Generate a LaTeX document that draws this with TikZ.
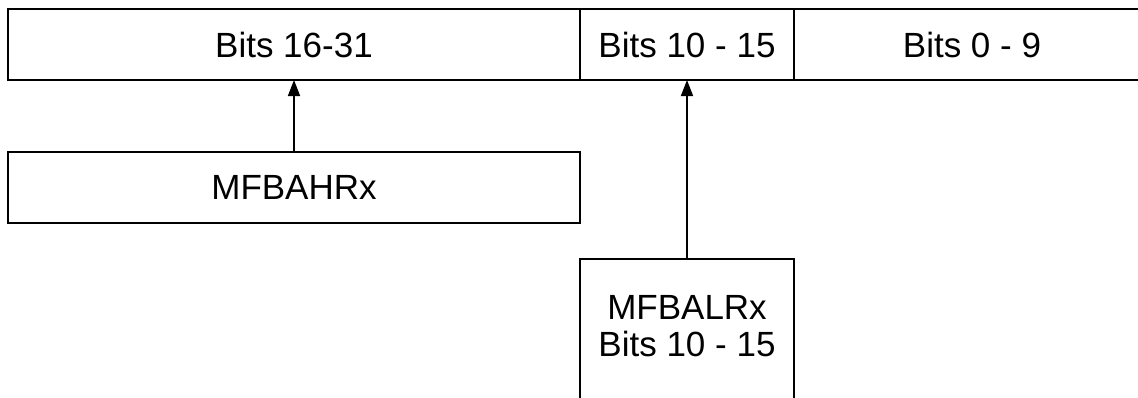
\documentclass[tikz,border=0pt]{standalone}
\usepackage{fontspec}
\setmainfont{Liberation Sans}
\usetikzlibrary{positioning,arrows.meta}

\begin{document}
\begin{tikzpicture}[x=1pt,y=1pt]

		\useasboundingbox (0,0) rectangle (1138,-397);

		\tikzset{
		field/.style={
			draw,
			line width=1.6pt,
			outer sep=0pt,
			inner sep=0pt,
			align=center,
			minimum height=71pt,
			font=\fontsize{35pt}{37pt}\selectfont
		}}

		\node[
		field,
		minimum width=572pt
		] (H) at (294,-44.5)
		{Bits 16-31};

		\node[
		field,
		minimum width=214pt,
		right=0pt of H
		] (M)
		{Bits 10 - 15};

		\node[
		field,
		minimum width=356pt,
		right=0pt of M
		] (L)
		{Bits 0 - 9};

		\node[
		field,
		minimum width=572pt,
		below=72pt of H
		] (HR)
		{MFBAHRx};

		\node[
		field,
		minimum width=214pt,
		inner ysep=36pt,
		text depth=80pt,
		below=179pt of M
		] (LR)
		{MFBALRx\\
			Bits 10 - 15};

		\draw[-{Triangle[length=16pt,width=12pt]},line width=1.6pt]
		(HR) -- (H);

		\draw[-{Triangle[length=16pt,width=12pt]},line width=1.6pt]
		(LR) -- (M);

	\end{tikzpicture}
\end{document}
